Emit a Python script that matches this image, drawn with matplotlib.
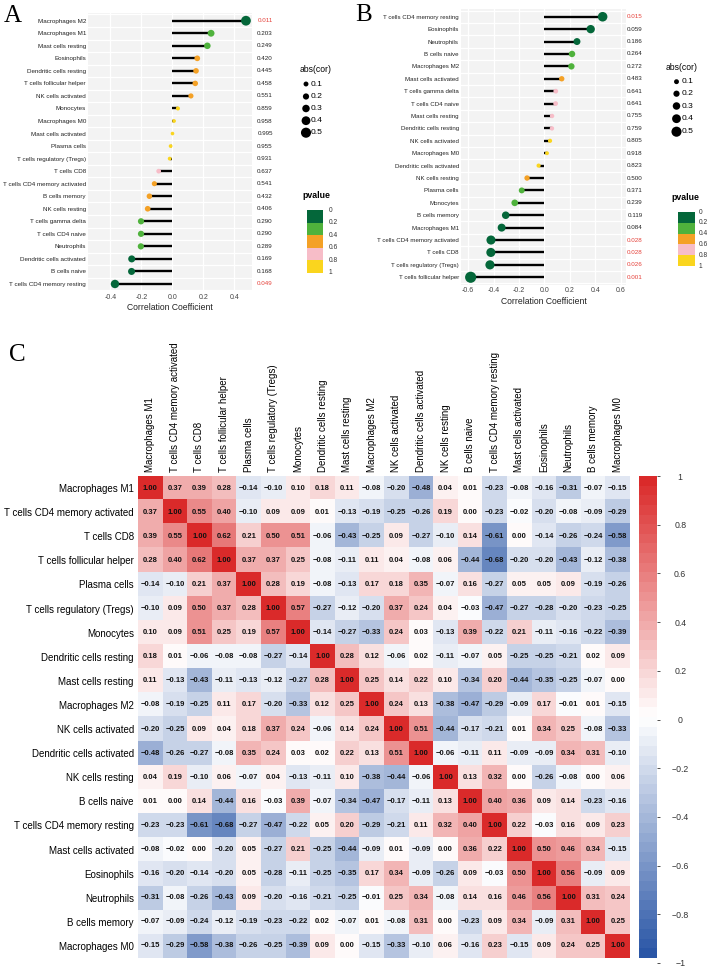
import numpy as np
import matplotlib
matplotlib.use("Agg")
import matplotlib.pyplot as plt
import matplotlib.transforms as mtransforms
from matplotlib.colors import LinearSegmentedColormap
from matplotlib.patches import Rectangle

plt.rcParams['font.family'] = ['Liberation Sans', 'DejaVu Sans']

# ---------------- data ----------------
cells_A = ["Macrophages M2", "Macrophages M1", "Mast cells resting", "Eosinophils",
           "Dendritic cells resting", "T cells follicular helper", "NK cells activated",
           "Monocytes", "Macrophages M0", "Mast cells activated", "Plasma cells",
           "T cells regulatory (Tregs)", "T cells CD8", "T cells CD4 memory activated",
           "B cells memory", "NK cells resting", "T cells gamma delta", "T cells CD4 naive",
           "Neutrophils", "Dendritic cells activated", "B cells naive",
           "T cells CD4 memory resting"]
cor_A = [0.475, 0.25, 0.226, 0.161, 0.153, 0.148, 0.12, 0.036, 0.011, 0.001, -0.011,
         -0.017, -0.088, -0.116, -0.148, -0.159, -0.202, -0.202, -0.203, -0.262, -0.263, -0.37]
p_A = [0.011, 0.203, 0.249, 0.420, 0.445, 0.458, 0.551, 0.859, 0.958, 0.995, 0.955,
       0.931, 0.637, 0.541, 0.432, 0.406, 0.290, 0.290, 0.289, 0.169, 0.168, 0.049]

cells_B = ["T cells CD4 memory resting", "Eosinophils", "Neutrophils", "B cells naive",
           "Macrophages M2", "Mast cells activated", "T cells gamma delta", "T cells CD4 naive",
           "Mast cells resting", "Dendritic cells resting", "NK cells activated",
           "Macrophages M0", "Dendritic cells activated", "NK cells resting", "Plasma cells",
           "Monocytes", "B cells memory", "Macrophages M1", "T cells CD4 memory activated",
           "T cells CD8", "T cells regulatory (Tregs)", "T cells follicular helper"]
cor_B = [0.459, 0.365, 0.257, 0.218, 0.213, 0.137, 0.09, 0.089, 0.061, 0.060, 0.045,
         0.021, -0.045, -0.136, -0.178, -0.233, -0.304, -0.336, -0.42, -0.421, -0.428, -0.58]
p_B = [0.015, 0.059, 0.186, 0.264, 0.272, 0.483, 0.641, 0.641, 0.755, 0.759, 0.805,
       0.918, 0.823, 0.500, 0.371, 0.239, 0.119, 0.084, 0.028, 0.028, 0.026, 0.001]

heat_cells = ["Macrophages M1", "T cells CD4 memory activated", "T cells CD8",
              "T cells follicular helper", "Plasma cells", "T cells regulatory (Tregs)",
              "Monocytes", "Dendritic cells resting", "Mast cells resting", "Macrophages M2",
              "NK cells activated", "Dendritic cells activated", "NK cells resting",
              "B cells naive", "T cells CD4 memory resting", "Mast cells activated",
              "Eosinophils", "Neutrophils", "B cells memory", "Macrophages M0"]
corr = [
    [1.00, 0.37, 0.39, 0.28, -0.14, -0.10, 0.10, 0.18, 0.11, -0.08, -0.20, -0.48, 0.04, 0.01, -0.23, -0.08, -0.16, -0.31, -0.07, -0.15],
    [0.37, 1.00, 0.55, 0.40, -0.10, 0.09, 0.09, 0.01, -0.13, -0.19, -0.25, -0.26, 0.19, 0.00, -0.23, -0.02, -0.20, -0.08, -0.09, -0.29],
    [0.39, 0.55, 1.00, 0.62, 0.21, 0.50, 0.51, -0.06, -0.43, -0.25, 0.09, -0.27, -0.10, 0.14, -0.61, 0.00, -0.14, -0.26, -0.24, -0.58],
    [0.28, 0.40, 0.62, 1.00, 0.37, 0.37, 0.25, -0.08, -0.11, 0.11, 0.04, -0.08, 0.06, -0.44, -0.68, -0.20, -0.20, -0.43, -0.12, -0.38],
    [-0.14, -0.10, 0.21, 0.37, 1.00, 0.28, 0.19, -0.08, -0.13, 0.17, 0.18, 0.35, -0.07, 0.16, -0.27, 0.05, 0.05, 0.09, -0.19, -0.26],
    [-0.10, 0.09, 0.50, 0.37, 0.28, 1.00, 0.57, -0.27, -0.12, -0.20, 0.37, 0.24, 0.04, -0.03, -0.47, -0.27, -0.28, -0.20, -0.23, -0.25],
    [0.10, 0.09, 0.51, 0.25, 0.19, 0.57, 1.00, -0.14, -0.27, -0.33, 0.24, 0.03, -0.13, 0.39, -0.22, 0.21, -0.11, -0.16, -0.22, -0.39],
    [0.18, 0.01, -0.06, -0.08, -0.08, -0.27, -0.14, 1.00, 0.28, 0.12, -0.06, 0.02, -0.11, -0.07, 0.05, -0.25, -0.25, -0.21, 0.02, 0.09],
    [0.11, -0.13, -0.43, -0.11, -0.13, -0.12, -0.27, 0.28, 1.00, 0.25, 0.14, 0.22, 0.10, -0.34, 0.20, -0.44, -0.35, -0.25, -0.07, 0.00],
    [-0.08, -0.19, -0.25, 0.11, 0.17, -0.20, -0.33, 0.12, 0.25, 1.00, 0.24, 0.13, -0.38, -0.47, -0.29, -0.09, 0.17, -0.01, 0.01, -0.15],
    [-0.20, -0.25, 0.09, 0.04, 0.18, 0.37, 0.24, -0.06, 0.14, 0.24, 1.00, 0.51, -0.44, -0.17, -0.21, 0.01, 0.34, 0.25, -0.08, -0.33],
    [-0.48, -0.26, -0.27, -0.08, 0.35, 0.24, 0.03, 0.02, 0.22, 0.13, 0.51, 1.00, -0.06, -0.11, 0.11, -0.09, -0.09, 0.34, 0.31, -0.10],
    [0.04, 0.19, -0.10, 0.06, -0.07, 0.04, -0.13, -0.11, 0.10, -0.38, -0.44, -0.06, 1.00, 0.13, 0.32, 0.00, -0.26, -0.08, 0.00, 0.06],
    [0.01, 0.00, 0.14, -0.44, 0.16, -0.03, 0.39, -0.07, -0.34, -0.47, -0.17, -0.11, 0.13, 1.00, 0.40, 0.36, 0.09, 0.14, -0.23, -0.16],
    [-0.23, -0.23, -0.61, -0.68, -0.27, -0.47, -0.22, 0.05, 0.20, -0.29, -0.21, 0.11, 0.32, 0.40, 1.00, 0.22, -0.03, 0.16, 0.09, 0.23],
    [-0.08, -0.02, 0.00, -0.20, 0.05, -0.27, 0.21, -0.25, -0.44, -0.09, 0.01, -0.09, 0.00, 0.36, 0.22, 1.00, 0.50, 0.46, 0.34, -0.15],
    [-0.16, -0.20, -0.14, -0.20, 0.05, -0.28, -0.11, -0.25, -0.35, 0.17, 0.34, -0.09, -0.26, 0.09, -0.03, 0.50, 1.00, 0.56, -0.09, 0.09],
    [-0.31, -0.08, -0.26, -0.43, 0.09, -0.20, -0.16, -0.21, -0.25, -0.01, 0.25, 0.34, -0.08, 0.14, 0.16, 0.46, 0.56, 1.00, 0.31, 0.24],
    [-0.07, -0.09, -0.24, -0.12, -0.19, -0.23, -0.22, 0.02, -0.07, 0.01, -0.08, 0.31, 0.00, -0.23, 0.09, 0.34, -0.09, 0.31, 1.00, 0.25],
    [-0.15, -0.29, -0.58, -0.38, -0.26, -0.25, -0.39, 0.09, 0.00, -0.15, -0.33, -0.10, 0.06, -0.16, 0.23, -0.15, 0.09, 0.24, 0.25, 1.00],
]

pval_bins = [0, 0.2, 0.4, 0.6, 0.8, 1]
pval_colors = ["#04673A", "#4FB23C", "#F4A126", "#F7BDC8", "#FAD51E"]
size_levels = [0.1, 0.2, 0.3, 0.4, 0.5]
cbar_ticks = [-1, -0.8, -0.6, -0.4, -0.2, 0, 0.2, 0.4, 0.6, 0.8, 1]

W, H = 709, 971
fig = plt.figure(figsize=(W / 100, H / 100), dpi=100)


def px_axes(left, top, right, bottom):
    return fig.add_axes([left / W, 1 - bottom / H, (right - left) / W, (bottom - top) / H])


def dot_size(r):
    d_px = 3.6 + 13 * np.abs(np.asarray(r))
    return (d_px * 0.72) ** 2


def p_color(p):
    idx = min(int(p / 0.2), 4)
    return pval_colors[idx]


def lollipop(ax, names, cors, pvals, xlim, ticks, ptext_x, label_fs):
    n = len(names)
    y = np.arange(n)
    ax.set_facecolor("#F3F3F3")
    for t in ticks:
        ax.axvline(t, color="white", lw=0.9, zorder=0)
    for yy in np.arange(n + 1) - 0.5:
        ax.axhline(yy, color="white", lw=0.9, zorder=0)
    ax.hlines(y, 0, cors, color="black", lw=1.7, zorder=2)
    ax.scatter(cors, y, s=dot_size(cors), c=[p_color(p) for p in pvals],
               edgecolors="none", zorder=3)
    ax.set_xlim(*xlim)
    ax.set_ylim(n - 0.4, -0.6)
    ax.set_yticks(y)
    ax.set_yticklabels(names, fontsize=label_fs, color="#222222")
    ax.set_xticks(ticks)
    ax.set_xticklabels([f"{t:.1f}" for t in ticks], fontsize=5, color="#444444")
    ax.tick_params(length=0, pad=1.5)
    ax.set_xlabel("Correlation Coefficient", fontsize=6.2, labelpad=2, color="#222222")
    for s in ax.spines.values():
        s.set_visible(False)
    tr = mtransforms.blended_transform_factory(fig.transFigure, ax.transData)
    for yi, p in zip(y, pvals):
        ax.text(ptext_x / W, yi, f"{p:.3f}", transform=tr, fontsize=4.5,
                ha="center", va="center", color="#E5413A" if p < 0.05 else "#222222")


axA = px_axes(88, 13.2, 252, 291.5)
lollipop(axA, cells_A, cor_A, p_A, (-0.544, 0.514), [-0.4, -0.2, 0.0, 0.2, 0.4], 265, 4.5)

axB = px_axes(461, 9.3, 626, 284.7)
lollipop(axB, cells_B, cor_B, p_B, (-0.656, 0.643), [-0.6, -0.4, -0.2, 0.0, 0.2, 0.4, 0.6], 635, 4.4)

# overlay for legends and panel letters (pixel coordinates)
ov = fig.add_axes([0, 0, 1, 1])
ov.set_xlim(0, W)
ov.set_ylim(H, 0)
ov.axis("off")


def legends(xdot, ydots, title_xy, box_x, box_y0, box_y1, lab_x, ptitle_xy):
    ov.text(title_xy[0], title_xy[1], "abs(cor)", fontsize=6.2, ha="center", va="center")
    ov.scatter([xdot] * len(size_levels), ydots, s=dot_size(size_levels), c="black",
               edgecolors="none")
    for yy, lv in zip(ydots, size_levels):
        ov.text(xdot + 5, yy, f"{lv:.1f}", fontsize=6.1, ha="left", va="center")
    ov.text(ptitle_xy[0], ptitle_xy[1], "pvalue", fontsize=6.3, fontweight="bold",
            ha="center", va="center")
    hb = (box_y1 - box_y0) / len(pval_colors)
    for i, col in enumerate(pval_colors):
        ov.add_patch(Rectangle((box_x[0], box_y0 + i * hb), box_x[1] - box_x[0], hb,
                               facecolor=col, edgecolor="none"))
    for i, b in enumerate(pval_bins):
        lab = "0" if b == 0 else ("1" if b == 1 else f"{b:.1f}")
        ov.text(lab_x, box_y0 + i * hb, lab, fontsize=4.8, ha="left", va="center", color="#333333")


legends(306, [84, 96.5, 108.5, 120.7, 132.7], (316, 70), (307, 323), 210, 273, 329, (316, 196))
legends(676.5, [81.7, 93.7, 106, 118.7, 131.7], (682, 68), (678, 695), 212, 266, 699, (685, 198))

for letter, x, y in [("A", 13, 16), ("B", 364, 15), ("C", 17, 355)]:
    ov.text(x, y, letter, fontsize=18, family="Liberation Serif", ha="center", va="center")

# ---------------- heatmap ----------------
cmap = LinearSegmentedColormap.from_list("bwr_c", ["#2A56A6", "#FFFFFF", "#DA2A2A"], N=50)
axC = px_axes(138, 476, 630, 958)
mat = np.array(corr)
im = axC.imshow(mat, cmap=cmap, vmin=-1, vmax=1, aspect="auto", interpolation="nearest")
nc = len(heat_cells)
for i in range(nc):
    for j in range(nc):
        v = mat[i, j]
        axC.text(j, i, f"{v:.2f}".replace("-", "\u2212"), ha="center", va="center",
                 fontsize=5.5, fontweight="bold", color="#111111")
axC.set_xticks(range(nc))
axC.set_xticklabels(heat_cells, rotation=90, fontsize=7)
axC.set_yticks(range(nc))
axC.set_yticklabels(heat_cells, fontsize=7)
axC.xaxis.tick_top()
axC.tick_params(length=0, pad=3)
for s in axC.spines.values():
    s.set_visible(False)

cax = px_axes(639, 476, 657, 958)
cb = fig.colorbar(im, cax=cax, ticks=[])
cb.outline.set_visible(False)

# colour key labels: spaced a little beyond the bar, as in corrplot
kax = px_axes(639, 476, 657, 963)
kax.set_ylim(-1, 1)
kax.patch.set_visible(False)
kax.set_xticks([])
kax.yaxis.tick_right()
kax.set_yticks(cbar_ticks)
kax.set_yticklabels(["1" if t == 1 else ("0" if t == 0 else
                     (f"{t:.1f}" if t > 0 else ("\u22121" if t == -1 else f"\u2212{-t:.1f}")))
                     for t in cbar_ticks])
kax.tick_params(length=2.2, width=0.6, pad=14.5, labelsize=6.3, color="#333333",
                labelcolor="#333333")
for lab in kax.get_yticklabels():
    lab.set_horizontalalignment("center")
for s in kax.spines.values():
    s.set_visible(False)

fig.savefig("out.png", dpi=100)
